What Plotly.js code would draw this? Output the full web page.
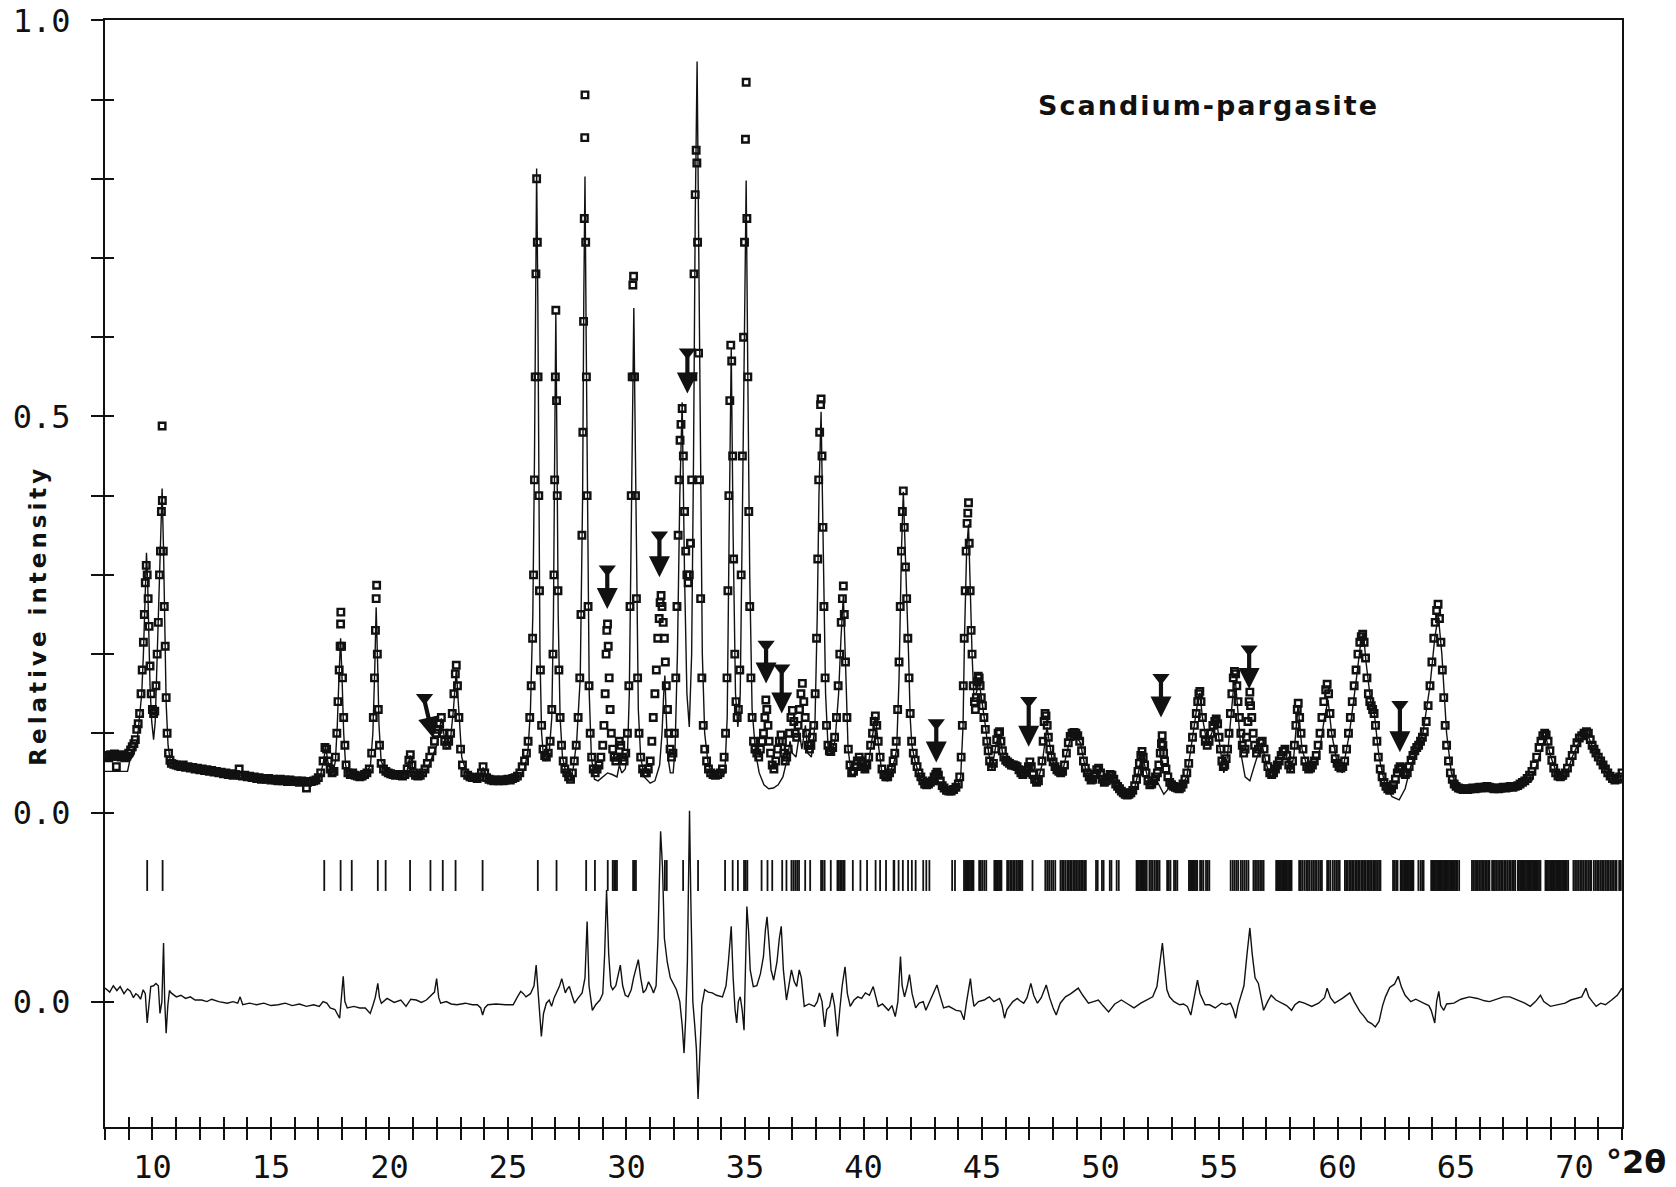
<!DOCTYPE html>
<html>
<head>
<meta charset="utf-8">
<script src="https://cdn.plot.ly/plotly-3.0.1.min.js"></script>
<style>
html,body{margin:0;padding:0;background:#fff;}
#chart{width:1676px;height:1187px;}
</style>
</head>
<body>
<div id="chart"></div>
<script>
// ---------- data ----------
const DIFF_ZERO = -0.2387;       // vertical offset of the difference curve
const REFL_TOP = -0.060, REFL_BOTTOM = -0.099;

const xTickVals = [10,15,20,25,30,35,40,45,50,55,60,65,70];
const xTickText = ['10','15','20','25','30','35','40','45','50','55','60','65','70'];
const yTickVals = [1.0,0.9,0.8,0.7,0.6,0.5,0.4,0.3,0.2,0.1,0.0,DIFF_ZERO];
const yTickText = ['1.0','','','','','0.5','','','','','0.0','0.0'];
const yInnerTickVals = [0.9,0.8,0.7,0.6,0.5,0.4,0.3,0.2,0.1,0.0,DIFF_ZERO];

// calculated profile [2theta, intensity]
const calcProfile = [
[8.0,0.052],[8.5,0.052],[8.95,0.052],[9.05,0.066],[9.2,0.072],[9.35,0.088],[9.45,0.115],[9.55,0.15],[9.62,0.2],[9.68,0.26],[9.75,0.328],[9.8,0.29],[9.85,0.22],[9.9,0.16],[9.97,0.115],[10.05,0.092],[10.12,0.115],[10.2,0.19],[10.28,0.26],[10.35,0.34],[10.41,0.409],[10.47,0.33],[10.52,0.245],[10.58,0.138],[10.66,0.085],[10.75,0.066],[10.9,0.06],[11.2,0.057],
[12.0,0.054],[13.0,0.050],[14.0,0.046],[15.0,0.043],[16.0,0.041],[16.9,0.040],[17.1,0.048],[17.22,0.065],[17.31,0.083],[17.4,0.065],[17.5,0.052],[17.62,0.050],[17.72,0.065],[17.8,0.11],[17.87,0.17],[17.94,0.220],[18.0,0.17],[18.07,0.1],[18.15,0.06],[18.25,0.048],[18.6,0.046],[19.0,0.048],[19.2,0.06],[19.3,0.1],[19.38,0.18],[19.44,0.259],[19.5,0.19],[19.56,0.11],[19.65,0.065],[19.8,0.055],[20.0,0.05],[20.7,0.047],[20.88,0.072],[21.05,0.047],[21.3,0.045],[21.6,0.055],[21.8,0.07],[22.0,0.085],[22.19,0.119],[22.4,0.08],[22.55,0.085],[22.7,0.13],[22.82,0.18],[22.92,0.13],[23.05,0.07],[23.3,0.045],[23.8,0.042],[23.95,0.057],[24.1,0.042],[25.0,0.041],[25.5,0.045],[25.7,0.055],[25.85,0.08],[25.95,0.13],[26.05,0.25],[26.12,0.45],[26.17,0.65],[26.21,0.813],[26.26,0.65],[26.3,0.4],[26.35,0.2],[26.42,0.1],[26.5,0.07],[26.6,0.065],[26.75,0.08],[26.85,0.12],[26.92,0.25],[26.97,0.45],[27.02,0.631],[27.07,0.45],[27.12,0.25],[27.2,0.12],[27.3,0.07],[27.45,0.05],[27.6,0.04],[27.75,0.055],[27.9,0.09],[28.05,0.17],[28.15,0.4],[28.2,0.65],[28.25,0.803],[28.3,0.6],[28.36,0.35],[28.43,0.15],[28.52,0.07],[28.65,0.042],[28.8,0.04],[29.0,0.045],[29.2,0.05],[29.4,0.048],[29.6,0.045],[29.7,0.06],[29.8,0.05],[29.95,0.055],[30.05,0.08],[30.12,0.15],[30.2,0.35],[30.26,0.55],[30.31,0.637],[30.36,0.5],[30.42,0.3],[30.5,0.13],[30.6,0.07],[30.75,0.045],[31.0,0.037],[31.2,0.04],[31.4,0.06],[31.5,0.1],[31.57,0.15],[31.62,0.173],[31.68,0.12],[31.75,0.07],[31.85,0.05],[31.97,0.05],[32.05,0.08],[32.15,0.2],[32.25,0.4],[32.35,0.518],[32.45,0.3],[32.55,0.15],[32.65,0.108],[32.75,0.2],[32.83,0.45],[32.9,0.75],[32.98,0.948],[33.05,0.7],[33.12,0.4],[33.2,0.2],[33.3,0.1],[33.45,0.06],[33.7,0.045],[34.0,0.045],[34.15,0.05],[34.25,0.12],[34.33,0.35],[34.42,0.585],[34.5,0.35],[34.6,0.15],[34.7,0.108],[34.8,0.15],[34.9,0.4],[34.98,0.65],[35.05,0.798],[35.12,0.55],[35.2,0.3],[35.3,0.13],[35.45,0.075],[35.6,0.05],[35.8,0.035],[36.0,0.03],[36.2,0.031],[36.4,0.035],[36.6,0.045],[36.8,0.07],[36.9,0.09],[37.0,0.075],[37.15,0.07],[37.3,0.10],[37.4,0.08],[37.55,0.11],[37.65,0.075],[37.8,0.07],[37.95,0.11],[38.05,0.25],[38.12,0.4],[38.21,0.506],[38.3,0.35],[38.4,0.15],[38.5,0.085],[38.62,0.074],[38.8,0.09],[38.95,0.15],[39.05,0.22],[39.15,0.274],[39.25,0.18],[39.35,0.08],[39.5,0.045],[39.65,0.05],[39.84,0.068],[40.0,0.05],[40.2,0.06],[40.35,0.09],[40.5,0.121],[40.65,0.08],[40.8,0.045],[41.0,0.04],[41.2,0.055],[41.3,0.065],[41.4,0.08],[41.5,0.17],[41.6,0.33],[41.68,0.405],[41.76,0.33],[41.83,0.27],[41.9,0.2],[41.97,0.12],[42.04,0.085],[42.18,0.064],[42.39,0.044],[42.6,0.032],[42.89,0.037],[43.1,0.042],[43.38,0.029],[43.66,0.026],[43.94,0.032],[44.1,0.045],[44.2,0.11],[44.26,0.22],[44.35,0.33],[44.43,0.364],[44.5,0.27],[44.58,0.2],[44.65,0.15],[44.75,0.15],[44.88,0.165],[45.0,0.14],[45.14,0.11],[45.28,0.075],[45.42,0.055],[45.6,0.088],[45.74,0.098],[45.91,0.068],[46.19,0.058],[46.47,0.056],[46.69,0.045],[46.9,0.05],[47.11,0.04],[47.32,0.036],[47.53,0.06],[47.74,0.108],[47.95,0.068],[48.16,0.052],[48.37,0.048],[48.59,0.077],[48.73,0.094],[48.94,0.098],[49.15,0.088],[49.36,0.056],[49.64,0.038],[49.92,0.052],[50.13,0.036],[50.48,0.045],[50.7,0.032],[51.12,0.021],[51.4,0.027],[51.61,0.052],[51.75,0.075],[51.89,0.056],[52.1,0.032],[52.38,0.04],[52.67,0.023],[52.95,0.033],[53.37,0.028],[53.65,0.047],[53.86,0.09],[54.0,0.115],[54.1,0.14],[54.19,0.151],[54.3,0.12],[54.5,0.085],[54.7,0.1],[54.9,0.117],[55.05,0.08],[55.2,0.05],[55.35,0.07],[55.5,0.12],[55.62,0.16],[55.69,0.167],[55.8,0.13],[55.95,0.07],[56.1,0.045],[56.3,0.04],[56.5,0.06],[56.8,0.088],[57.0,0.06],[57.2,0.045],[57.5,0.055],[57.8,0.078],[58.0,0.05],[58.15,0.07],[58.33,0.135],[58.5,0.08],[58.8,0.05],[59.2,0.07],[59.45,0.12],[59.6,0.142],[59.75,0.1],[60.0,0.06],[60.2,0.05],[60.5,0.1],[60.8,0.17],[61.0,0.22],[61.09,0.227],[61.2,0.19],[61.4,0.14],[61.55,0.125],[61.75,0.07],[62.0,0.035],[62.3,0.02],[62.6,0.016],[62.85,0.03],[63.1,0.06],[63.36,0.08],[63.6,0.1],[63.9,0.16],[64.1,0.22],[64.25,0.249],[64.4,0.2],[64.6,0.1],[64.8,0.05],[65.0,0.035],[65.5,0.027],[66.5,0.028],[67.5,0.03],[68.2,0.04],[68.5,0.07],[68.77,0.097],[69.0,0.07],[69.3,0.045],[69.6,0.042],[69.9,0.07],[70.2,0.09],[70.52,0.10],[70.8,0.08],[71.2,0.065],[71.6,0.045],[72.0,0.038]
];

// observed points, low angle
const obsLow = [
[8.0,.070],[8.08,.072],[8.16,.069],[8.24,.073],[8.32,.071],[8.4,.074],[8.48,.058],[8.52,.071],[8.6,.072],[8.68,.070],[8.76,.073],[8.84,.069],[8.92,.071],[9.0,.075],[9.08,.079],[9.15,.083],[9.22,.087],[9.28,.092],[9.34,.105],[9.4,.112],[9.46,.125],[9.52,.15],[9.57,.18],[9.62,.215],[9.66,.25],[9.7,.29],[9.74,.312],[9.78,.30],[9.82,.27],[9.86,.235],[9.9,.185],[9.95,.15],[10.0,.13],[10.05,.125],[10.1,.128],[10.15,.16],[10.2,.2],[10.25,.24],[10.3,.3],[10.34,.33],[10.38,.38],[10.41,.488],[10.42,.394],[10.46,.33],[10.5,.26],[10.54,.21],[10.58,.145],[10.62,.10],[10.68,.075],[10.74,.066],[10.8,.062],[10.9,.061],
[11.0,.060],[11.1,.059],[11.2,.058],[11.3,.060],[11.4,.057],[11.5,.058],[11.6,.056],[11.7,.057],[11.8,.055],[11.9,.056],[12.0,.054],[12.1,.055],[12.2,.053],[12.3,.054],[12.4,.052],[12.5,.053],[12.6,.051],[12.7,.052],[12.8,.050],[12.9,.051],[13.0,.049],[13.1,.050],[13.2,.048],[13.3,.049],[13.4,.047],[13.5,.048],[13.66,.055],[13.7,.047],[13.8,.046],[13.9,.047],[14.0,.045],[14.1,.046],[14.2,.044],[14.3,.045],[14.4,.043],[14.5,.044],[14.6,.042],[14.7,.043],[14.8,.042],[14.9,.043],[15.0,.041],[15.1,.042],[15.2,.041],[15.3,.040],[15.4,.042],[15.5,.040],[15.6,.041],[15.7,.039],[15.8,.041],[15.9,.040],[16.0,.039],[16.1,.040],[16.2,.038],[16.3,.040],[16.4,.039],[16.5,.031],[16.55,.038],[16.6,.039],[16.7,.039],[16.8,.040],[16.9,.041],[17.0,.044],[17.1,.05],[17.2,.065],[17.28,.082],[17.35,.08],[17.42,.065],[17.5,.055],[17.58,.05],[17.66,.052],[17.72,.07],[17.78,.10],[17.83,.14],[17.88,.18],[17.92,.21],[17.94,.238],[17.95,.253],[17.98,.21],[18.02,.17],[18.07,.12],[18.12,.085],[18.17,.06],[18.25,.05],[18.35,.048],[18.45,.05],[18.55,.047],[18.65,.046],[18.75,.045],[18.85,.046],[18.95,.048],[19.05,.05],[19.15,.055],[19.25,.075],[19.32,.12],[19.37,.17],[19.41,.23],[19.44,.27],[19.46,.287],[19.49,.2],[19.53,.13],[19.58,.085],[19.65,.062],[19.75,.055],[19.85,.052],[19.95,.05],[20.05,.049],[20.15,.048],[20.25,.047],[20.35,.048],[20.45,.047],[20.55,.046],[20.65,.048],[20.75,.055],[20.82,.066],[20.88,.073],[20.95,.06],[21.02,.05],[21.1,.047],[21.2,.046],[21.3,.047],[21.4,.05],[21.5,.055],[21.6,.062],[21.7,.07],[21.8,.078],[21.9,.09],[21.97,.10],[22.05,.105],[22.12,.112],[22.19,.12],[22.26,.1],[22.33,.09],[22.42,.085],[22.5,.09],[22.58,.1],[22.65,.125],[22.72,.15],[22.78,.175],[22.82,.186],[22.87,.16],[22.93,.12],[23.0,.08],[23.08,.06],[23.18,.05],[23.3,.047],[23.4,.045],[23.5,.044],[23.6,.044],[23.7,.043],[23.8,.045],[23.88,.05],[23.95,.058],[24.02,.05],[24.1,.044],[24.2,.042],[24.3,.041],[24.4,.040],[24.5,.041],[24.6,.040],[24.7,.041],[24.8,.040],[24.9,.041],[25.0,.042],[25.1,.041],[25.2,.043],[25.3,.044],[25.4,.046]
];

// observed points, main peak region
const obsMid = [
[25.5,.05],[25.6,.058],[25.7,.065],[25.78,.075],[25.85,.09],[25.92,.12],[25.98,.16],[26.04,.22],[26.08,.30],[26.12,.42],[26.15,.55],[26.18,.68],[26.21,.80],[26.24,.72],[26.27,.55],[26.3,.40],[26.33,.28],[26.37,.18],[26.42,.11],[26.48,.08],[26.55,.072],[26.62,.07],[26.7,.075],[26.78,.09],[26.85,.13],[26.9,.2],[26.94,.3],[26.97,.42],[27.0,.55],[27.02,.634],[27.05,.52],[27.08,.4],[27.11,.28],[27.15,.18],[27.2,.12],[27.26,.085],[27.33,.065],[27.4,.055],[27.48,.05],[27.56,.045],[27.64,.042],[27.72,.05],[27.8,.065],[27.88,.085],[27.96,.12],[28.03,.17],[28.08,.25],[28.12,.35],[28.16,.48],[28.19,.62],[28.22,.75],[28.24,.852],[28.25,.906],[28.28,.72],[28.31,.55],[28.34,.40],[28.38,.26],[28.42,.16],[28.47,.1],[28.53,.07],[28.6,.055],[28.68,.05],[28.76,.055],[28.84,.06],[28.92,.07],[29.0,.085],[29.05,.11],[29.1,.15],[29.14,.2],[29.17,.23],[29.2,.238],[29.23,.21],[29.27,.17],[29.31,.13],[29.36,.10],[29.42,.08],[29.48,.07],[29.55,.065],[29.62,.07],[29.7,.09],[29.76,.085],[29.83,.07],[29.9,.065],[29.97,.075],[30.04,.1],[30.1,.16],[30.15,.26],[30.2,.40],[30.24,.55],[30.27,.666],[30.3,.677],[30.34,.55],[30.38,.40],[30.42,.27],[30.47,.17],[30.53,.10],[30.6,.07],[30.68,.055],[30.76,.05],[30.84,.05],[30.92,.055],[31.0,.065],[31.07,.09],[31.13,.12],[31.2,.15],[31.26,.18],[31.32,.22],[31.38,.245],[31.42,.265],[31.46,.274],[31.5,.26],[31.55,.24],[31.6,.22],[31.64,.19],[31.68,.16],[31.73,.13],[31.78,.10],[31.84,.08],[31.9,.07],[31.96,.075],[32.02,.10],[32.08,.17],[32.13,.26],[32.18,.35],[32.22,.42],[32.26,.47],[32.3,.49],[32.35,.51],[32.4,.45],[32.45,.38],[32.5,.33],[32.55,.30],[32.6,.29],[32.65,.30],[32.7,.34],[32.75,.42],[32.8,.55],[32.85,.68],[32.9,.78],[32.94,.836],[32.97,.82],[33.0,.72],[33.04,.58],[33.08,.42],[33.13,.27],[33.18,.17],[33.24,.11],[33.3,.08],[33.38,.065],[33.46,.055],[33.55,.05],[33.65,.048],[33.75,.047],[33.85,.048],[33.95,.05],[34.05,.055],[34.12,.07],[34.18,.10],[34.24,.17],[34.28,.28],[34.32,.40],[34.36,.52],[34.4,.59],[34.44,.57],[34.48,.45],[34.52,.32],[34.57,.2],[34.62,.14],[34.67,.12],[34.72,.13],[34.78,.18],[34.84,.30],[34.89,.45],[34.94,.60],[34.98,.72],[35.02,.85],[35.05,.922],[35.08,.75],[35.12,.55],[35.16,.38],[35.2,.26],[35.25,.17],[35.3,.12],[35.36,.09],[35.42,.08],[35.5,.075],[35.58,.07],[35.65,.08],[35.72,.09],[35.78,.10],[35.84,.12],[35.88,.142],[35.92,.13],[35.97,.11],[36.02,.09],[36.08,.075],[36.15,.06],[36.22,.055],[36.3,.065],[36.38,.08],[36.45,.09],[36.52,.098],[36.58,.09],[36.64,.075],[36.7,.065],[36.76,.07],[36.82,.08],[36.88,.10],[36.94,.12],[37.0,.129],[37.06,.115],[37.12,.10],[37.18,.095],[37.24,.11],[37.3,.13],[37.36,.15],[37.42,.163],[37.48,.14],[37.54,.12],[37.6,.10],[37.66,.085],[37.72,.08],[37.78,.085],[37.84,.095],[37.9,.11],[37.96,.15],[38.02,.22],[38.07,.32],[38.11,.42],[38.15,.48],[38.19,.515],[38.21,.522],[38.25,.45],[38.29,.36],[38.33,.26],[38.38,.17],[38.44,.11],[38.5,.085],[38.56,.078],[38.62,.077],[38.7,.082],[38.78,.095],[38.86,.12],[38.93,.16],[39.0,.2],[39.06,.24],[39.11,.27],[39.15,.286],[39.19,.25],[39.24,.19],[39.3,.12],[39.36,.08],[39.43,.06],[39.5,.05],[39.58,.052],[39.66,.058],[39.74,.065],[39.82,.07],[39.9,.065],[39.98,.058],[40.06,.055],[40.14,.06],[40.22,.07],[40.3,.085],[40.38,.10],[40.45,.115],[40.5,.122],[40.56,.11],[40.62,.09],[40.7,.07],[40.78,.055],[40.86,.048],[40.94,.045],[41.02,.045],[41.1,.05],[41.18,.055],[41.25,.065],[41.32,.075],[41.38,.09],[41.44,.13],[41.5,.19],[41.55,.26],[41.6,.33],[41.64,.38],[41.68,.406],[41.72,.36],[41.77,.31],[41.82,.27],[41.87,.22],[41.92,.17],[41.97,.125],[42.03,.09],[42.1,.075],[42.18,.066],[42.26,.058],[42.34,.05],[42.42,.045],[42.5,.04],[42.58,.036],[42.66,.035],[42.74,.036],[42.82,.038],[42.9,.040],[42.98,.045],[43.05,.048],[43.1,.051],[43.16,.047],[43.24,.04],[43.32,.034],[43.4,.031],[43.5,.028],[43.6,.027],[43.7,.027],[43.8,.029],[43.9,.032],[44.0,.036],[44.06,.045],[44.12,.07],[44.17,.11],[44.21,.16],[44.25,.22],[44.29,.28],[44.33,.33],[44.37,.365],[44.4,.378],[44.43,.391],[44.46,.34],[44.5,.28],[44.54,.23],[44.58,.2],[44.63,.16],[44.68,.14],[44.72,.13],[44.76,.145],[44.8,.165],[44.84,.172],[44.88,.17],[44.92,.16],[44.97,.145],[45.02,.135],[45.08,.12],[45.14,.105],[45.2,.09],[45.26,.078],[45.32,.065],[45.4,.058]
];

// observed points, high angle
const obsHigh = [
[45.48,.062],[45.56,.08],[45.62,.092],[45.68,.10],[45.74,.102],[45.8,.09],[45.86,.078],[45.92,.07],[46.0,.066],[46.08,.064],[46.16,.062],[46.24,.06],[46.32,.06],[46.4,.059],[46.48,.058],[46.56,.054],[46.64,.05],[46.72,.048],[46.8,.05],[46.88,.053],[46.96,.058],[47.02,.064],[47.08,.058],[47.15,.048],[47.22,.042],[47.3,.038],[47.38,.040],[47.46,.05],[47.53,.065],[47.58,.09],[47.62,.115],[47.66,.125],[47.7,.122],[47.75,.11],[47.8,.095],[47.86,.08],[47.92,.07],[48.0,.064],[48.08,.058],[48.16,.054],[48.24,.052],[48.32,.05],[48.4,.052],[48.48,.06],[48.56,.075],[48.64,.088],[48.72,.096],[48.8,.100],[48.88,.101],[48.96,.100],[49.04,.097],[49.12,.09],[49.2,.078],[49.28,.065],[49.36,.056],[49.44,.05],[49.52,.045],[49.6,.041],[49.68,.042],[49.76,.048],[49.84,.054],[49.92,.056],[50.0,.05],[50.08,.042],[50.16,.038],[50.24,.04],[50.32,.044],[50.4,.048],[50.48,.047],[50.56,.042],[50.64,.036],[50.72,.033],[50.8,.03],[50.88,.027],[50.96,.025],[51.04,.023],[51.12,.022],[51.2,.023],[51.28,.025],[51.36,.028],[51.44,.034],[51.52,.042],[51.58,.052],[51.64,.062],[51.7,.072],[51.75,.077],[51.8,.07],[51.86,.06],[51.92,.05],[52.0,.04],[52.08,.035],[52.16,.036],[52.24,.04],[52.32,.045],[52.4,.05],[52.46,.06],[52.52,.075],[52.57,.087],[52.6,.097],[52.63,.085],[52.66,.075],[52.7,.065],[52.76,.055],[52.84,.045],[52.92,.038],[53.0,.035],[53.08,.033],[53.16,.032],[53.24,.031],[53.32,.03],[53.4,.032],[53.48,.036],[53.56,.042],[53.64,.05],[53.72,.062],[53.8,.08],[53.88,.095],[53.96,.11],[54.04,.125],[54.1,.14],[54.15,.15],[54.19,.153],[54.24,.14],[54.3,.12],[54.36,.10],[54.42,.09],[54.5,.085],[54.58,.09],[54.66,.10],[54.74,.11],[54.82,.115],[54.88,.118],[54.94,.112],[55.0,.095],[55.06,.08],[55.12,.065],[55.18,.058],[55.24,.06],[55.3,.068],[55.36,.08],[55.42,.10],[55.48,.125],[55.54,.15],[55.6,.17],[55.65,.178],[55.7,.175],[55.75,.16],[55.8,.14],[55.86,.12],[55.92,.10],[55.98,.085],[56.04,.075],[56.1,.08],[56.16,.095],[56.22,.115],[56.27,.14],[56.3,.152],[56.33,.135],[56.38,.12],[56.44,.10],[56.5,.085],[56.58,.075],[56.66,.08],[56.74,.088],[56.82,.09],[56.9,.08],[56.98,.068],[57.06,.058],[57.14,.05],[57.22,.048],[57.3,.05],[57.38,.055],[57.46,.06],[57.54,.065],[57.62,.072],[57.7,.077],[57.78,.08],[57.86,.072],[57.94,.06],[58.02,.055],[58.1,.065],[58.18,.085],[58.24,.11],[58.3,.13],[58.34,.138],[58.4,.12],[58.46,.10],[58.54,.08],[58.62,.065],[58.7,.058],[58.78,.055],[58.86,.056],[58.94,.06],[59.02,.065],[59.1,.072],[59.18,.085],[59.26,.10],[59.34,.12],[59.42,.14],[59.5,.155],[59.56,.162],[59.62,.15],[59.68,.125],[59.74,.10],[59.82,.08],[59.9,.068],[59.98,.062],[60.06,.058],[60.14,.056],[60.22,.058],[60.3,.065],[60.38,.08],[60.46,.10],[60.54,.12],[60.62,.14],[60.7,.16],[60.78,.18],[60.86,.2],[60.94,.215],[61.0,.222],[61.06,.225],[61.12,.215],[61.18,.195],[61.24,.17],[61.3,.15],[61.36,.14],[61.42,.135],[61.48,.13],[61.54,.125],[61.6,.11],[61.66,.09],[61.72,.07],[61.8,.055],[61.88,.045],[61.96,.038],[62.04,.033],[62.12,.03],[62.2,.028],[62.28,.03],[62.36,.035],[62.44,.042],[62.52,.05],[62.58,.055],[62.64,.058],[62.7,.056],[62.78,.05],[62.86,.048],[62.94,.05],[63.02,.058],[63.1,.066],[63.18,.072],[63.26,.078],[63.34,.082],[63.42,.085],[63.5,.09],[63.58,.095],[63.66,.102],[63.74,.115],[63.82,.135],[63.9,.16],[63.98,.19],[64.06,.22],[64.12,.24],[64.18,.255],[64.24,.263],[64.3,.245],[64.36,.215],[64.42,.18],[64.48,.145],[64.54,.11],[64.6,.085],[64.68,.065],[64.76,.05],[64.84,.042],[64.92,.036],[65.0,.033],[65.1,.031],[65.2,.030],[65.3,.029],[65.4,.030],[65.5,.029],[65.6,.030],[65.7,.031],[65.8,.030],[65.9,.031],[66.0,.032],[66.1,.031],[66.2,.032],[66.3,.033],[66.4,.032],[66.5,.031],[66.6,.030],[66.7,.031],[66.8,.030],[66.9,.031],[67.0,.032],[67.1,.031],[67.2,.032],[67.3,.033],[67.4,.032],[67.5,.033],[67.6,.034],[67.7,.036],[67.8,.038],[67.9,.04],[68.0,.043],[68.1,.047],[68.2,.052],[68.3,.06],[68.4,.07],[68.5,.082],[68.58,.09],[68.66,.097],[68.74,.10],[68.8,.098],[68.88,.09],[68.96,.078],[69.04,.066],[69.12,.056],[69.2,.05],[69.3,.046],[69.4,.045],[69.5,.047],[69.6,.05],[69.7,.056],[69.8,.064],[69.9,.072],[70.0,.08],[70.1,.088],[70.2,.094],[70.3,.097],[70.4,.10],[70.5,.102],[70.58,.10],[70.66,.092],[70.74,.085],[70.82,.08],[70.9,.075],[71.0,.07],[71.1,.065],[71.2,.06],[71.3,.055],[71.4,.05],[71.5,.046],[71.6,.043],[71.7,.041],[71.8,.042],[71.9,.045],[72.0,.050]
];

// difference (observed - calculated)
const diffPoints = [
[8.0,0.017],[8.2,0.012],[8.35,0.02],[8.5,0.014],[8.64,0.019],[8.8,0.01],[8.95,0.016],[9.07,0.013],[9.2,0.005],[9.3,0.01],[9.39,0.008],[9.5,0.003],[9.61,0.015],[9.7,0.01],[9.78,-0.027],[9.85,0.0],[9.93,0.019],[10.05,0.02],[10.15,0.023],[10.25,0.02],[10.32,-0.015],[10.4,0.0],[10.47,0.074],[10.52,0.0],[10.58,-0.04],[10.65,-0.005],[10.72,0.014],[10.79,0.011],[10.9,0.008],[11.01,0.006],[11.2,0.008],[11.4,0.004],[11.6,0.006],[11.8,0.002],[12.08,0.002],[12.3,0.0],[12.5,0.003],[12.8,0.0],[13.16,-0.002],[13.4,0.0],[13.6,-0.002],[13.7,0.006],[13.81,-0.004],[14.1,-0.002],[14.4,-0.004],[14.7,-0.002],[15.0,-0.005],[15.31,-0.004],[15.6,-0.002],[15.9,-0.005],[16.2,-0.003],[16.5,-0.006],[16.8,-0.004],[17.04,-0.006],[17.2,0.0],[17.36,-0.002],[17.5,-0.008],[17.7,-0.01],[17.9,-0.021],[17.97,0.0],[18.05,0.032],[18.12,0.0],[18.22,-0.008],[18.5,-0.006],[18.75,-0.008],[18.98,-0.008],[19.19,-0.015],[19.3,-0.005],[19.4,0.005],[19.51,0.023],[19.58,0.005],[19.66,-0.002],[19.9,0.004],[20.2,-0.001],[20.48,0.002],[20.7,-0.006],[20.9,0.003],[21.13,0.002],[21.35,-0.001],[21.56,0.002],[21.8,0.01],[21.9,0.012],[21.99,0.029],[22.08,0.005],[22.16,-0.002],[22.4,0.0],[22.6,-0.003],[22.85,-0.004],[23.2,-0.002],[23.5,-0.004],[23.71,-0.004],[23.85,-0.008],[23.93,-0.017],[24.02,-0.008],[24.15,-0.004],[24.5,-0.003],[24.9,-0.004],[25.22,-0.004],[25.4,0.006],[25.54,0.013],[25.65,0.01],[25.76,0.006],[25.95,0.01],[26.1,0.02],[26.19,0.046],[26.3,0.0],[26.41,-0.044],[26.5,-0.015],[26.62,-0.002],[26.74,0.002],[26.84,-0.006],[26.95,0.005],[27.09,0.015],[27.18,0.02],[27.27,0.029],[27.35,0.018],[27.42,0.011],[27.5,0.016],[27.59,0.019],[27.7,0.008],[27.81,-0.002],[27.95,0.004],[28.13,0.011],[28.25,0.03],[28.34,0.101],[28.42,0.02],[28.5,0.0],[28.56,-0.011],[28.7,-0.004],[28.88,0.002],[29.0,0.01],[29.08,0.06],[29.16,0.141],[29.25,0.06],[29.34,0.02],[29.42,0.015],[29.55,0.02],[29.66,0.035],[29.74,0.046],[29.84,0.02],[29.95,0.008],[30.07,0.006],[30.2,0.015],[30.3,0.03],[30.39,0.042],[30.5,0.053],[30.6,0.03],[30.71,0.011],[30.82,0.015],[30.93,0.025],[31.05,0.018],[31.14,0.011],[31.25,0.02],[31.33,0.08],[31.44,0.215],[31.52,0.17],[31.6,0.08],[31.72,0.05],[31.85,0.03],[31.98,0.022],[32.11,0.015],[32.25,0.0],[32.35,-0.03],[32.43,-0.065],[32.5,-0.02],[32.57,0.05],[32.62,0.16],[32.66,0.241],[32.72,0.12],[32.8,0.0],[32.88,-0.03],[32.95,-0.06],[33.02,-0.123],[33.1,-0.05],[33.18,-0.005],[33.3,0.015],[33.45,0.012],[33.62,0.011],[33.8,0.008],[34.05,0.006],[34.2,0.02],[34.3,0.05],[34.42,0.095],[34.5,0.03],[34.58,-0.01],[34.65,-0.027],[34.72,0.0],[34.8,0.006],[34.88,-0.01],[34.96,-0.036],[35.03,0.04],[35.08,0.12],[35.15,0.09],[35.22,0.04],[35.35,0.019],[35.5,0.02],[35.65,0.035],[35.78,0.057],[35.86,0.09],[35.93,0.107],[36.0,0.08],[36.1,0.04],[36.21,0.027],[36.35,0.05],[36.45,0.08],[36.53,0.095],[36.62,0.04],[36.75,0.002],[36.85,0.02],[36.96,0.04],[37.08,0.025],[37.18,0.019],[37.29,0.04],[37.38,0.03],[37.5,-0.006],[37.7,-0.003],[37.93,-0.006],[38.05,0.0],[38.14,0.011],[38.25,0.0],[38.36,-0.032],[38.45,-0.01],[38.57,-0.006],[38.68,0.011],[38.78,-0.005],[38.9,-0.044],[39.0,-0.01],[39.1,0.02],[39.22,0.044],[39.32,0.01],[39.44,-0.006],[39.6,0.002],[39.76,0.006],[39.92,0.004],[40.08,0.011],[40.25,0.008],[40.41,0.019],[40.52,0.005],[40.62,-0.006],[40.8,-0.003],[41.05,-0.011],[41.2,-0.005],[41.34,-0.019],[41.45,0.0],[41.56,0.057],[41.63,0.02],[41.73,0.006],[41.85,0.02],[41.94,0.034],[42.05,0.01],[42.2,-0.008],[42.35,-0.002],[42.52,0.0],[42.63,-0.011],[42.85,0.005],[43.1,0.021],[43.2,0.01],[43.38,-0.008],[43.6,-0.006],[43.91,-0.011],[44.1,-0.012],[44.24,-0.023],[44.35,0.0],[44.51,0.029],[44.58,0.01],[44.66,-0.006],[44.85,0.0],[45.09,0.002],[45.2,0.004],[45.31,0.006],[45.5,0.0],[45.74,0.004],[45.85,-0.005],[45.95,-0.021],[46.05,-0.01],[46.16,-0.006],[46.3,0.0],[46.49,0.004],[46.6,0.001],[46.76,-0.002],[46.9,0.005],[47.06,0.023],[47.18,0.008],[47.34,-0.002],[47.5,0.005],[47.71,0.021],[47.85,0.005],[48.0,-0.008],[48.13,-0.017],[48.3,-0.002],[48.52,0.006],[48.75,0.01],[49.06,0.017],[49.25,0.008],[49.49,-0.002],[49.7,0.0],[49.91,0.002],[50.1,-0.005],[50.34,-0.013],[50.6,-0.003],[50.88,0.002],[51.15,-0.003],[51.41,-0.008],[51.7,-0.002],[51.95,0.002],[52.2,0.006],[52.38,0.019],[52.5,0.045],[52.61,0.074],[52.7,0.045],[52.8,0.015],[52.91,0.006],[53.1,0.0],[53.34,-0.004],[53.5,-0.003],[53.66,-0.006],[53.81,-0.017],[53.95,0.005],[54.09,0.027],[54.2,0.01],[54.41,-0.004],[54.6,-0.004],[54.84,-0.008],[55.1,-0.002],[55.3,-0.004],[55.48,-0.002],[55.6,-0.01],[55.7,-0.021],[55.8,-0.005],[55.91,0.006],[56.05,0.02],[56.18,0.06],[56.3,0.093],[56.4,0.06],[56.52,0.03],[56.66,0.023],[56.76,0.005],[56.88,-0.011],[57.05,0.0],[57.2,0.008],[57.4,0.002],[57.63,-0.002],[57.85,-0.005],[58.06,-0.011],[58.2,-0.004],[58.38,0.0],[58.6,-0.002],[58.91,-0.006],[59.2,-0.002],[59.45,0.005],[59.56,0.017],[59.7,0.005],[59.88,-0.002],[60.2,0.004],[60.52,0.011],[60.7,0.0],[60.95,-0.013],[61.1,-0.018],[61.27,-0.025],[61.45,-0.028],[61.59,-0.032],[61.75,-0.025],[61.9,-0.005],[62.02,0.006],[62.2,0.018],[62.4,0.022],[62.56,0.032],[62.7,0.018],[62.85,0.008],[63.09,0.0],[63.3,0.003],[63.63,-0.002],[63.85,-0.005],[63.95,-0.011],[64.1,-0.027],[64.18,0.0],[64.27,0.013],[64.35,-0.005],[64.48,-0.011],[64.6,-0.003],[64.91,-0.002],[65.2,0.003],[65.56,0.006],[65.9,0.004],[66.2,0.001],[66.41,0.0],[66.8,0.004],[67.0,0.006],[67.27,0.006],[67.6,0.002],[67.9,-0.002],[68.13,-0.006],[68.35,0.0],[68.56,0.008],[68.7,0.0],[68.98,-0.006],[69.3,-0.004],[69.6,-0.002],[69.84,0.002],[70.1,0.004],[70.3,0.006],[70.48,0.017],[70.6,0.006],[70.75,0.0],[70.91,-0.006],[71.1,-0.002],[71.3,-0.004],[71.56,0.002],[71.8,0.008],[72.0,0.017]
];

// Bragg reflection positions (2theta)
const reflections = [
9.78,10.43,17.25,17.94,18.41,19.51,19.84,20.87,21.73,22.25,22.79,23.93,26.26,27.05,28.30,28.67,29.21,29.42,29.48,29.54,29.60,30.28,30.34,30.40,31.62,31.70,32.39,33.02,34.16,34.48,34.70,34.96,35.03,35.10,
35.70,35.95,36.15,36.57,36.75,36.96,37.04,37.12,37.20,37.28,37.54,37.75,38.21,38.28,38.36,38.62,38.90,38.96,39.02,39.08,39.14,39.20,39.55,39.87,40.15,40.51,40.70,40.95,41.27,
41.30,41.48,41.66,41.88,42.04,42.20,42.52,42.65,42.78,43.74,43.86,
44.24,44.29,44.34,44.39,44.44,44.49,44.54,44.59,44.64,44.88,44.95,45.02,45.10,45.18,
45.52,45.57,45.62,45.67,45.72,45.77,45.82,46.06,46.13,46.20,46.26,46.33,46.38,46.45,46.52,46.58,46.64,46.70,47.13,
47.67,47.75,47.83,47.92,48.00,48.09,48.31,48.38,48.45,48.52,48.60,48.66,48.72,48.78,48.85,48.92,48.98,49.05,49.12,49.18,49.25,49.31,49.38,
49.81,49.88,50.06,50.13,50.39,50.46,50.68,50.77,
51.52,51.57,51.62,51.67,51.72,51.77,51.82,51.87,51.92,51.95,52.06,52.13,52.20,52.28,52.35,52.42,52.49,52.81,52.88,52.95,53.10,53.17,53.24,
53.73,53.78,53.83,53.88,53.93,53.98,54.03,54.08,54.20,54.27,54.34,54.45,54.52,54.59,
55.49,55.58,55.66,55.74,55.81,55.92,56.00,56.08,56.16,56.24,56.45,56.52,56.60,56.67,56.74,56.81,56.88,
57.41,57.46,57.51,57.56,57.61,57.66,57.71,57.76,57.81,57.86,57.91,57.96,58.01,58.06,
58.38,58.45,58.52,58.60,58.68,58.75,58.82,58.90,58.97,59.05,59.12,59.20,59.27,59.34,59.56,59.63,59.70,59.80,59.88,59.95,60.02,60.09,
60.31,60.37,60.43,60.50,60.56,60.62,60.68,60.75,60.81,60.87,60.93,61.00,61.06,61.12,61.18,61.25,61.31,61.37,61.43,61.50,61.56,61.62,61.68,61.75,61.81,
62.34,62.40,62.47,62.53,62.66,62.71,62.76,62.81,62.86,62.91,62.96,63.01,63.06,63.11,63.16,63.20,63.41,63.50,63.57,63.63,
63.95,64.00,64.05,64.10,64.15,64.20,64.25,64.30,64.35,64.40,64.45,64.50,64.55,64.60,64.65,64.70,64.75,64.80,64.85,64.90,64.95,65.00,65.05,65.13,
65.67,65.73,65.80,65.86,65.92,65.98,66.05,66.11,66.17,66.23,66.30,66.36,66.41,
66.52,66.58,66.64,66.70,66.77,66.84,66.90,66.97,67.04,67.10,67.17,67.24,67.30,67.37,67.43,67.49,
67.60,67.65,67.70,67.75,67.80,67.85,67.90,67.95,68.00,68.05,68.10,68.15,68.20,68.25,68.30,68.35,68.40,68.45,68.50,68.56,
68.77,68.82,68.87,68.92,68.97,69.02,69.07,69.12,69.17,69.22,69.27,69.32,69.37,69.42,69.47,69.52,69.57,69.62,69.67,69.73,
69.95,70.02,70.10,70.17,70.24,70.31,70.38,70.45,70.52,70.60,70.66,70.70,
70.81,70.88,70.95,71.02,71.09,71.16,71.23,71.30,71.37,71.44,71.51,71.58,71.65,71.72,71.77,71.88,71.95
];

// impurity arrows: [tail x, tail y, tip x, tip y]
const impurityArrows = [
[21.48,0.155,21.85,0.094],[29.19,0.317,29.19,0.257],[31.39,0.360,31.39,0.297],[32.57,0.591,32.57,0.529],
[35.89,0.222,35.89,0.163],[36.55,0.192,36.55,0.125],[43.07,0.123,43.07,0.063],[46.97,0.151,46.97,0.083],
[52.55,0.180,52.55,0.120],[56.27,0.216,56.27,0.156],[62.63,0.146,62.63,0.076]
];

// ---------- build traces ----------
const INK = '#111';
const obsAll = obsLow.concat(obsMid, obsHigh);

const traces = [];
traces.push({
  type:'scatter', mode:'lines', name:'calculated',
  x: calcProfile.map(p=>p[0]), y: calcProfile.map(p=>p[1]),
  line:{color:INK, width:1.4}, hoverinfo:'skip'
});
traces.push({
  type:'scatter', mode:'markers', name:'observed',
  x: obsAll.map(p=>p[0]), y: obsAll.map(p=>p[1]),
  marker:{symbol:'square-open', size:6.5, color:INK, line:{color:INK, width:2.4}},
  hoverinfo:'skip'
});
traces.push({
  type:'scatter', mode:'lines', name:'difference',
  x: diffPoints.map(p=>p[0]), y: diffPoints.map(p=>p[1] + DIFF_ZERO),
  line:{color:INK, width:1.4}, hoverinfo:'skip'
});
traces.push({
  type:'scatter', mode:'lines', name:'reflections',
  x: reflections.flatMap(r=>[r, r, null]),
  y: reflections.flatMap(()=>[REFL_TOP, REFL_BOTTOM, null]),
  line:{color:INK, width:1.8}, hoverinfo:'skip'
});
// arrow fletchings
traces.push({
  type:'scatter', mode:'markers', name:'arrow tails',
  x: impurityArrows.map(a=>a[0]), y: impurityArrows.map(a=>a[1] - 0.010),
  marker:{symbol:'triangle-down', size:15, color:INK}, hoverinfo:'skip'
});
// helper trace for the inner tick axes
traces.push({type:'scatter', mode:'markers', x:[null], y:[null], xaxis:'x2', yaxis:'y2', hoverinfo:'skip'});

const annotations = impurityArrows.map(a => ({
  x:a[2], y:a[3], ax:a[0], ay:a[1]-0.014, xref:'x', yref:'y', axref:'x', ayref:'y',
  text:'', showarrow:true, arrowhead:2, arrowsize:1.0, arrowwidth:4.2, arrowcolor:INK, standoff:0
}));
annotations.push({
  xref:'x', yref:'y', x:54.57, y:0.893, xanchor:'center', yanchor:'middle', showarrow:false,
  text:'<span style="letter-spacing:2px">Scandium-pargasite</span>',
  font:{family:'DejaVu Sans', size:27, color:INK, weight:'bold'}
});
annotations.push({
  xref:'paper', yref:'paper', x:-0.0444, y:0.4625, xanchor:'center', yanchor:'middle', showarrow:false,
  textangle:-90,
  text:'<span style="letter-spacing:4px">Relative intensity</span>',
  font:{family:'DejaVu Sans', size:23, color:INK, weight:'bold'}
});
annotations.push({
  xref:'paper', yref:'paper', x:0.988, y:-0.032, xanchor:'left', yanchor:'middle', showarrow:false,
  text:'°2θ', font:{family:'DejaVu Sans', size:32, color:INK, weight:'bold'}
});

const tickFont = {family:'DejaVu Sans Mono', size:32, color:INK};
const X_RANGE = [8, 72], Y_RANGE = [-0.397, 1.0005];

const layout = {
  width:1676, height:1187,
  margin:{l:105, r:54, t:20, b:60, pad:0},
  paper_bgcolor:'#fff', plot_bgcolor:'#fff',
  showlegend:false,
  xaxis:{
    range:X_RANGE, showgrid:false, zeroline:false,
    showline:true, linecolor:INK, linewidth:2, mirror:true,
    tickmode:'array', tickvals:xTickVals, ticktext:xTickText,
    ticks:'outside', ticklen:11, tickwidth:2, tickcolor:INK,
    minor:{tickmode:'linear', tick0:0, dtick:1, ticks:'outside', ticklen:11, tickwidth:2, tickcolor:INK, showgrid:false},
    tickfont:tickFont, ticklabelstandoff:0
  },
  xaxis2:{
    range:X_RANGE, overlaying:'x', anchor:'y2', side:'bottom',
    showgrid:false, zeroline:false, showline:false, showticklabels:false,
    tickmode:'array', tickvals:xTickVals,
    ticks:'inside', ticklen:10, tickwidth:2, tickcolor:INK,
    minor:{tickmode:'linear', tick0:0, dtick:1, ticks:'inside', ticklen:10, tickwidth:2, tickcolor:INK, showgrid:false}
  },
  yaxis:{
    range:Y_RANGE, showgrid:false, zeroline:false,
    showline:true, linecolor:INK, linewidth:2, mirror:true,
    tickmode:'array', tickvals:yTickVals, ticktext:yTickText,
    ticks:'outside', ticklen:12, tickwidth:2, tickcolor:INK,
    tickfont:tickFont, ticklabelstandoff:14
  },
  yaxis2:{
    range:Y_RANGE, overlaying:'y', anchor:'x2', side:'left',
    showgrid:false, zeroline:false, showline:false, showticklabels:false,
    tickmode:'array', tickvals:yInnerTickVals,
    ticks:'inside', ticklen:9, tickwidth:2, tickcolor:INK
  },
  annotations:annotations
};

Plotly.newPlot('chart', traces, layout, {staticPlot:true, displayModeBar:false});
</script>
</body>
</html>
